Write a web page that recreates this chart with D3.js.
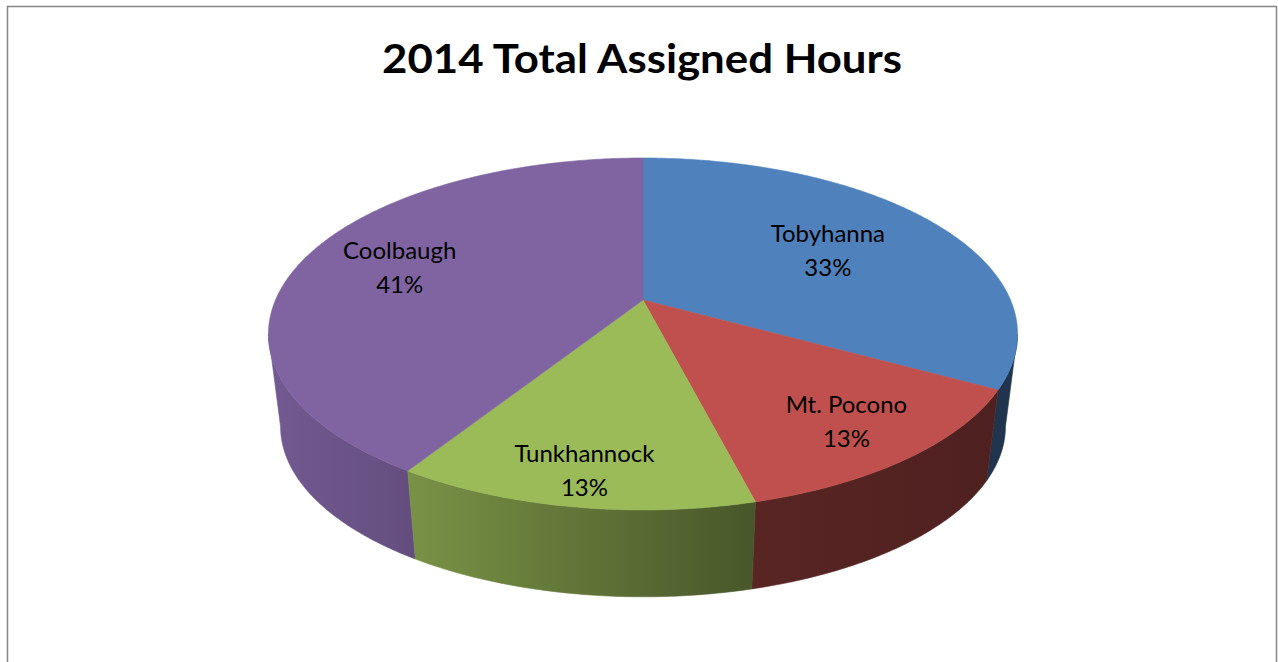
<!DOCTYPE html>
<html>
<head>
<meta charset="utf-8">
<script src="https://cdn.jsdelivr.net/npm/d3@7"></script>
<style>
  html, body { margin: 0; padding: 0; background: #fff; }
  svg { display: block; }
</style>
</head>
<body>
<div id="chart"></div>
<script>
// 3D pie — 2014 Total Assigned Hours
const title = '2014 Total Assigned Hours';
const towns = ['Tobyhanna', 'Mt. Pocono', 'Tunkhannock', 'Coolbaugh'];
const shares = [33, 13, 13, 41];
const colors = ['#4f81bd', '#c0504d', '#9bbb59', '#8064a2'];

(function() {
  const W = 1278, H = 662;
  const svg = d3.select('#chart').append('svg').attr('width', W).attr('height', H);

  // frame
  svg.append('rect').attr('x', 7.5).attr('y', 6.5).attr('width', 1269).attr('height', 720)
    .attr('fill', '#fff').attr('stroke', '#868686').attr('stroke-width', 1.5);

  // title
  svg.append('text').attr('x', 642).attr('y', 73).attr('text-anchor', 'middle')
    .attr('textLength', 520).attr('lengthAdjust', 'spacingAndGlyphs')
    .style('font-family', 'Lato, sans-serif').style('font-weight', 700).style('font-size', '41px')
    .style('fill', '#000').text(title);

  // perspective projection of the pie disc (top face) and its bottom rim
  const CX = 643, Y0 = 300, D = 367.5, A = -111.5, C = 0.193;
  const VX = 643, VY = 3200, S = 0.9677;
  const top = (t, r = 1) => {
    const u = r * Math.sin(t), v = r * Math.cos(t), den = 1 + C * v;
    return [CX + D * u / den, (Y0 + A * v) / den];
  };
  const bot = t => {
    const p = top(t);
    return [VX + (p[0] - VX) * S, VY + (p[1] - VY) * S];
  };
  const arcPts = (a0, a1, f) => {
    const n = Math.max(2, Math.ceil(Math.abs(a1 - a0) / 0.01));
    return d3.range(n + 1).map(i => f(a0 + (a1 - a0) * i / n));
  };

  const data = towns.map((d, i) => ({ town: d, value: shares[i], color: colors[i] }));
  const total = d3.sum(data, d => d.value);
  const pie = d3.pie().value(d => d.value).sort(null);
  const arcs = pie(data);

  // wall shading: lighter on the left, darker to the right
  const defs = svg.append('defs');
  const shade = [[268, 0.9], [420, 0.77], [760, 0.46], [1018, 0.4]];
  arcs.forEach((d, i) => {
    const base = d3.rgb(d.data.color);
    const g = defs.append('linearGradient').attr('id', 'wall' + i)
      .attr('gradientUnits', 'userSpaceOnUse')
      .attr('x1', 268).attr('x2', 1018).attr('y1', 0).attr('y2', 0);
    shade.forEach(([x, k]) => {
      g.append('stop').attr('offset', ((x - 268) / 750 * 100) + '%')
        .attr('stop-color', d3.rgb(base.r * k, base.g * k, base.b * k).formatHex());
    });
  });

  // visible wall range (silhouette to silhouette)
  const ta = Math.PI - Math.acos(C), tb = Math.PI + Math.acos(C);
  const walls = arcs.map((d, i) => ({ d, i, a0: Math.max(d.startAngle, ta), a1: Math.min(d.endAngle, tb) }))
    .filter(w => w.a1 > w.a0)
    .sort((p, q) => Math.abs(q.a0 + q.a1 - 2 * Math.PI) - Math.abs(p.a0 + p.a1 - 2 * Math.PI));

  const line = d3.line();
  const pieG = svg.append('g');
  walls.forEach(w => {
    const pts = arcPts(w.a0, w.a1, top).concat(arcPts(w.a1, w.a0, bot));
    pieG.append('path').attr('d', line(pts) + 'Z').attr('fill', `url(#wall${w.i})`)
      .attr('stroke', `url(#wall${w.i})`).attr('stroke-width', 0.6);
  });

  // top face slices
  arcs.forEach(d => {
    const pts = [top(0, 0)].concat(arcPts(d.startAngle, d.endAngle, top));
    pieG.append('path').attr('d', line(pts) + 'Z').attr('fill', d.data.color)
      .attr('stroke', d.data.color).attr('stroke-width', 0.6);
  });

  // labels
  const fmt = d3.format('.0%');
  const lab = svg.append('g').style('font-family', 'Lato, sans-serif').style('font-size', '24px').style('fill', '#000');
  arcs.forEach(d => {
    const m = (d.startAngle + d.endAngle) / 2;
    const r = 0.62 + 0.22 * Math.max(0, -Math.cos(m)) + 0.1 * Math.max(0, -Math.sin(m));
    const [x, y] = top(m, r);
    lab.append('text').attr('x', x).attr('y', y - 8).attr('text-anchor', 'middle').text(d.data.town);
    lab.append('text').attr('x', x).attr('y', y + 26).attr('text-anchor', 'middle').text(fmt(d.data.value / total));
  });
})();
</script>
</body>
</html>
